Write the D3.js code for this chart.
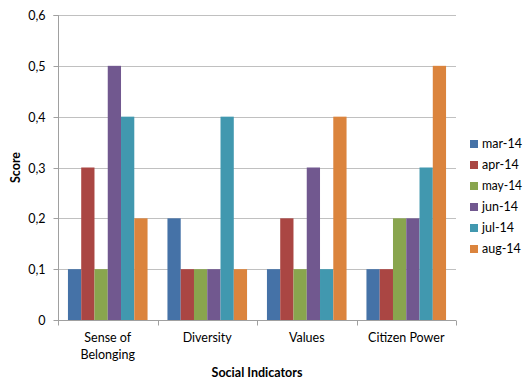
<!DOCTYPE html>
<html><head><meta charset="utf-8">
<script src="https://cdn.jsdelivr.net/npm/d3@7"></script>
<style>
body{margin:0;background:#fff;}
text{font-family:Lato,"Open Sans",sans-serif;fill:#000;}
</style></head>
<body><svg id="c" width="524" height="383"></svg>
<script>
const categories = ["Sense of Belonging","Diversity","Values","Citizen Power"];
const categoryLines = [["Sense of","Belonging"],["Diversity"],["Values"],["Citizen Power"]];
const seriesNames = ["mar-14","apr-14","may-14","jun-14","jul-14","aug-14"];
const mar14 = [0.1,0.2,0.1,0.1];
const apr14 = [0.3,0.1,0.2,0.1];
const may14 = [0.1,0.1,0.1,0.2];
const jun14 = [0.5,0.1,0.3,0.2];
const jul14 = [0.4,0.4,0.1,0.3];
const aug14 = [0.2,0.1,0.4,0.5];
const seriesValues = [mar14,apr14,may14,jun14,jul14,aug14];
const yTicks = [0,0.1,0.2,0.3,0.4,0.5,0.6];
const colors = ["#4572A7","#AA4643","#89A54E","#71588F","#4198AF","#DB843D"];

const svg = d3.select("#c");
const L=58, R=456, T=15, B=320;
const x0 = d3.scaleBand().domain(categories).range([L,R]).paddingInner(0.2).paddingOuter(0.1);
const x1 = d3.scaleBand().domain(seriesNames).range([0,x0.bandwidth()]);
const y = d3.scaleLinear().domain([0,0.6]).range([B,T]);
const fmt = d => String(d).replace(".",",");

// gridlines
svg.append("g").selectAll("line").data(yTicks.filter(d=>d>0)).join("line")
  .attr("x1",L).attr("x2",R).attr("y1",d=>Math.round(y(d))+0.5).attr("y2",d=>Math.round(y(d))+0.5)
  .attr("stroke","#c0c0c0").attr("stroke-width",1);

// y axis
const ya = svg.append("g").attr("transform",`translate(${L+0.5},0)`)
  .call(d3.axisLeft(y).tickValues(yTicks).tickFormat(fmt).tickSize(5).tickPadding(8));
ya.select(".domain").attr("stroke","#a0a0a0").attr("d",`M-5,${T+0.5}H0V${B+0.5}`);
ya.selectAll(".tick line").attr("stroke","#a0a0a0");
ya.selectAll(".tick text").attr("font-size",12.5).attr("font-family","Lato,sans-serif").attr("fill","#000");
ya.selectAll(".tick").attr("transform",d=>`translate(0,${Math.round(y(d))+0.5})`);

// bars
const groups = svg.append("g").selectAll("g").data(categories).join("g")
  .attr("transform",c=>`translate(${x0(c)},0)`);
groups.selectAll("rect").data((c,ci)=>seriesNames.map((s,si)=>({s,si,v:seriesValues[si][ci]}))).join("rect")
  .attr("x",d=>x1(d.s)).attr("width",x1.bandwidth())
  .attr("y",d=>y(d.v)).attr("height",d=>y(0)-y(d.v))
  .attr("fill",d=>colors[d.si]);

// x axis
const xa = svg.append("g").attr("transform",`translate(0,${B+0.5})`);
xa.append("line").attr("x1",L).attr("x2",R).attr("stroke","#a0a0a0");
const bounds = [L].concat(categories.map(c=>x0(c)+x0.bandwidth()+x0.step()*x0.paddingInner()/2));
bounds[bounds.length-1]=R;
xa.selectAll("line.t").data(bounds).join("line").attr("class","t")
  .attr("x1",d=>Math.round(d)+0.5).attr("x2",d=>Math.round(d)+0.5).attr("y1",0).attr("y2",5).attr("stroke","#a0a0a0");
const lab = xa.selectAll("text").data(categories).join("text")
  .attr("x",c=>x0(c)+x0.bandwidth()/2).attr("text-anchor","middle").attr("font-size",12.5);
lab.selectAll("tspan").data((c,i)=>categoryLines[i]).join("tspan")
  .attr("x",function(){return this.parentNode.getAttribute("x");})
  .attr("y",(d,i)=>21+i*17).text(d=>d);

// axis titles
svg.append("text").attr("x",(L+R)/2).attr("y",377).attr("text-anchor","middle")
  .attr("font-size",12.5).attr("font-weight","bold").text("Social Indicators");
svg.append("text").attr("transform",`translate(20,${(T+B)/2}) rotate(-90)`).attr("text-anchor","middle")
  .attr("font-size",12.5).attr("font-weight","bold").text("Score");

// legend
const lg = svg.append("g").selectAll("g").data(seriesNames).join("g")
  .attr("transform",(d,i)=>`translate(470,${144+i*21})`);
lg.append("rect").attr("x",0).attr("y",-4).attr("width",8).attr("height",8).attr("fill",(d,i)=>colors[i]);
lg.append("text").attr("x",12).attr("y",0).attr("dy","0.35em").attr("font-size",12.5).attr("textLength",null).text(d=>d)
  .each(function(){ const w=this.getComputedTextLength(); if(w>40) d3.select(this).attr("textLength",40).attr("lengthAdjust","spacingAndGlyphs"); });
</script></body></html>
